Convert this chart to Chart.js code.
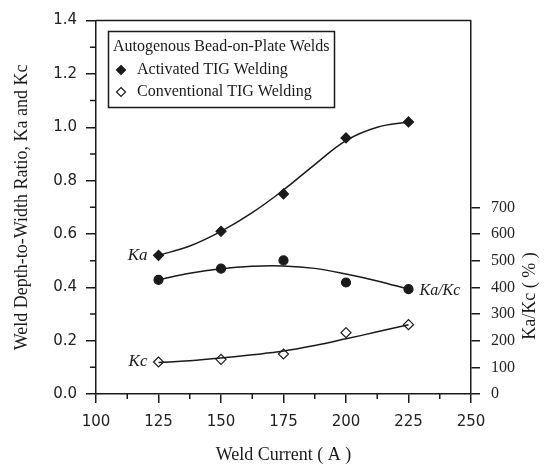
<!DOCTYPE html>
<html>
<head>
<meta charset="utf-8">
<script src="https://cdn.jsdelivr.net/npm/chart.js@4.4.1/dist/chart.umd.min.js"></script>
<style>
  html, body { margin: 0; padding: 0; background: #fff; }
  .canvas { width: 555px; height: 469px; }
</style>
</head>
<body>
<div class="canvas"><canvas id="weldChart"></canvas></div>
<script>
// measured points
const currents = [125, 150, 175, 200, 225];
const kaValues = [0.52, 0.61, 0.75, 0.96, 1.02];
const kcValues = [0.12, 0.13, 0.15, 0.23, 0.26];
const ratioValues = [428, 470, 501, 418, 393];

// fitted curves
const fitCurrents = [125, 137.5, 150, 162.5, 175, 187.5, 200, 212.5, 225];
const kaFit = [0.52, 0.555, 0.61, 0.68, 0.765, 0.86, 0.95, 1.0, 1.02];
const kcFit = [0.118, 0.125, 0.135, 0.147, 0.161, 0.182, 0.207, 0.233, 0.26];
const ratioFit = [428, 453, 470, 479, 480, 471, 450, 424, 393];

// tick labels
const xTicks = [100, 125, 150, 175, 200, 225, 250];
const leftTicks = [0, 0.2, 0.4, 0.6, 0.8, 1.0, 1.2, 1.4];
const rightTicks = [0, 100, 200, 300, 400, 500, 600, 700];

const legendTitle = 'Autogenous Bead-on-Plate Welds';
const legendLabels = ['Activated TIG Welding', 'Conventional TIG Welding'];

const ink = '#1a1a1a';
const serif = '"Liberation Serif", "Times New Roman", serif';
const sans = '"DejaVu Sans", Verdana, sans-serif';

const pts = (xs, ys) => xs.map((x, i) => ({ x: x, y: ys[i] }));
const setTicks = list => scale => { scale.ticks = list.map(v => ({ value: v })); };

function drawDiamond(ctx, cx, cy, r, filled) {
  ctx.beginPath();
  ctx.moveTo(cx, cy - r);
  ctx.lineTo(cx + r, cy);
  ctx.lineTo(cx, cy + r);
  ctx.lineTo(cx - r, cy);
  ctx.closePath();
  ctx.fillStyle = filled ? ink : '#fff';
  ctx.fill();
  ctx.lineWidth = 1.2;
  ctx.strokeStyle = ink;
  ctx.stroke();
}

const extras = {
  id: 'extras',
  afterDraw(chart) {
    const { ctx, chartArea: a, scales: { x, y, y2 } } = chart;
    ctx.save();
    ctx.strokeStyle = ink;
    ctx.lineWidth = 1.5;

    // top frame line
    ctx.beginPath();
    ctx.moveTo(a.left, a.top);
    ctx.lineTo(a.right, a.top);
    ctx.stroke();

    // minor ticks
    ctx.beginPath();
    for (let i = 0; i < leftTicks.length - 1; i++) {
      const py = y.getPixelForValue((leftTicks[i] + leftTicks[i + 1]) / 2);
      ctx.moveTo(a.left - 6, py);
      ctx.lineTo(a.left, py);
    }
    for (let i = 0; i < xTicks.length - 1; i++) {
      const px = x.getPixelForValue((xTicks[i] + xTicks[i + 1]) / 2);
      ctx.moveTo(px, a.bottom);
      ctx.lineTo(px, a.bottom + 5);
    }
    ctx.stroke();

    // curve labels
    ctx.fillStyle = ink;
    ctx.textBaseline = 'middle';
    ctx.font = 'italic 17px ' + serif;
    ctx.textAlign = 'right';
    ctx.fillText('Ka', x.getPixelForValue(currents[0]) - 11, y.getPixelForValue(kaValues[0]));
    ctx.fillText('Kc', x.getPixelForValue(currents[0]) - 11, y.getPixelForValue(kcValues[0]));
    ctx.font = 'italic 16px ' + serif;
    ctx.textAlign = 'left';
    const last = currents.length - 1;
    ctx.fillText('Ka/Kc', x.getPixelForValue(currents[last]) + 11, y2.getPixelForValue(ratioValues[last]) + 2);

    // right axis title, reading upwards
    ctx.save();
    ctx.translate(530, 296);
    ctx.rotate(-Math.PI / 2);
    ctx.textAlign = 'center';
    ctx.font = '18px ' + serif;
    ctx.fillText('Ka/Kc ( % )', 0, 0);
    ctx.restore();

    // legend box
    ctx.lineWidth = 1.5;
    ctx.strokeRect(108.5, 31.5, 226, 76);
    ctx.fillStyle = ink;
    ctx.textAlign = 'left';
    ctx.font = '16px ' + serif;
    ctx.fillText(legendTitle, 113, 47);
    drawDiamond(ctx, 121, 70, 4.5, true);
    drawDiamond(ctx, 121, 92, 4.5, false);
    ctx.fillStyle = ink;
    ctx.font = '16px ' + serif;
    ctx.fillText(legendLabels[0], 137, 70);
    ctx.fillText(legendLabels[1], 137, 92);
    ctx.restore();
  }
};

const curve = (data, axis) => ({
  type: 'line',
  data: data,
  yAxisID: axis,
  borderColor: ink,
  borderWidth: 1.5,
  pointRadius: 0,
  tension: 0.4,
  fill: false
});

const marks = (data, axis, style, radius, fillColor) => ({
  type: 'scatter',
  data: data,
  yAxisID: axis,
  showLine: false,
  pointStyle: style,
  pointRadius: radius,
  pointBackgroundColor: fillColor,
  pointBorderColor: ink,
  pointBorderWidth: 1.2
});

new Chart(document.getElementById('weldChart').getContext('2d'), {
  data: {
    datasets: [
      curve(pts(fitCurrents, kaFit), 'y'),
      curve(pts(fitCurrents, ratioFit), 'y2'),
      curve(pts(fitCurrents, kcFit), 'y'),
      marks(pts(currents, kaValues), 'y', 'rectRot', 5, ink),
      marks(pts(currents, ratioValues), 'y2', 'circle', 4.5, ink),
      marks(pts(currents, kcValues), 'y', 'rectRot', 5, '#fff')
    ]
  },
  options: {
    responsive: true,
    maintainAspectRatio: false,
    animation: false,
    layout: { padding: { top: 18, left: 0, right: 0, bottom: 0 } },
    plugins: {
      legend: { display: false },
      tooltip: { enabled: false }
    },
    scales: {
      x: {
        type: 'linear',
        position: 'bottom',
        min: 100,
        max: 250,
        afterBuildTicks: setTicks(xTicks),
        afterFit: s => { s.height = 75; },
        border: { color: ink, width: 1.5 },
        grid: { drawOnChartArea: false, tickLength: 9, color: ink, lineWidth: 1.5 },
        ticks: { color: '#222', font: { family: sans, size: 15 }, padding: 10, maxRotation: 0 },
        title: {
          display: true,
          text: 'Weld Current ( A )',
          color: ink,
          font: { family: serif, size: 18 },
          padding: { top: 0, bottom: 3 }
        }
      },
      y: {
        type: 'linear',
        position: 'left',
        min: 0,
        max: 1.4,
        afterBuildTicks: setTicks(leftTicks),
        afterFit: s => { s.width = 96; },
        border: { color: ink, width: 1.5 },
        grid: { drawOnChartArea: false, tickLength: 10, color: ink, lineWidth: 1.5 },
        ticks: {
          color: '#222',
          font: { family: sans, size: 15 },
          padding: 9,
          callback: v => v.toFixed(1)
        },
        title: {
          display: true,
          text: 'Weld Depth-to-Width Ratio, Ka and Kc',
          color: ink,
          font: { family: serif, size: 18 },
          padding: { top: 11, bottom: 0 }
        }
      },
      y2: {
        type: 'linear',
        position: 'right',
        min: 0,
        max: 1400,
        afterBuildTicks: setTicks(rightTicks),
        afterFit: s => { s.width = 84; },
        border: { color: ink, width: 1.5 },
        grid: { drawOnChartArea: false, tickLength: 9, color: ink, lineWidth: 1.5 },
        ticks: { color: '#222', font: { family: serif, size: 16 }, padding: 11 }
      }
    }
  },
  plugins: [extras]
});
</script>
</body>
</html>
